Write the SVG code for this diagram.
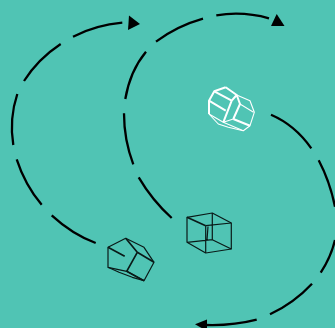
<svg xmlns="http://www.w3.org/2000/svg" width="335" height="328" viewBox="0 0 335 328">
<style>
.a{fill:none;stroke:#000;stroke-width:2.3;stroke-linecap:butt}
.k{fill:none;stroke:#0a1a18;stroke-width:1.2;stroke-linejoin:round}
.K{fill:none;stroke:#0a1a18;stroke-width:1.7;stroke-linejoin:round}
.w{fill:none;stroke:#fff;stroke-width:1.1;stroke-linejoin:round}
.W{fill:none;stroke:#fff;stroke-width:2;stroke-linejoin:round}
.h{fill:#000;stroke:none}
</style>
<rect width="335" height="328" fill="#50c4b4"/>
<g id="connectors">
<path class="a" d="M122.3 22.7Q96 25 73 36.7"/>
<path class="a" d="M60.7 44Q38 59 24 81"/>
<path class="a" d="M17.3 94Q9 119 13.3 145"/>
<path class="a" d="M16.7 159.3Q25 185 41.7 204.7"/>
<path class="a" d="M51.7 215.3Q72 234 95.7 243"/>
<polygon class="h" points="129,15.5 140,24 128,30"/>
<path class="a" d="M146 51.7Q130 71 125.3 99"/>
<path class="a" d="M156 41.7Q177 26 203 18.7"/>
<path class="a" d="M216.3 15.3Q243 11 269 18.3"/>
<polygon class="h" points="276.7,14 284.5,26 271,26"/>
<path class="a" d="M124 113.3Q124 140 133.3 164.3"/>
<path class="a" d="M138.7 177.3Q152 200 171.7 218"/>
<path class="a" d="M271 114.7Q295 125 311.3 148.3"/>
<path class="a" d="M318.7 160.3Q330 182 335 206.7"/>
<path class="a" d="M335 240Q331 257 320.7 272.7"/>
<path class="a" d="M312 283.7Q294 303 270 314.3"/>
<path class="a" d="M256.7 319.7Q232 326 205 325"/>
<polygon class="h" points="195,324.3 207,319.5 207,331"/>
</g>
<g id="node-white">
<path class="w" d="M236.7 95L250 100.7L254.3 112.3L250 125.7L243.3 130.7L228.3 127.3L218.3 124L209 114"/>
<path class="W" d="M225.7 87.3L214.3 91.3L209 100.7L209 114M225.7 87.3L236.7 95M214.3 91.3L231.7 100.7L223.3 122.3M209 100.7L225.7 110.7M233.3 119L250 125.7M231.7 100.7L236.7 95L240 104L233.3 119"/>
<path class="w" d="M240 104L253.5 112.3M209 114L223.3 122.3L233.3 119M223.3 122.3L243.3 130.7"/>
</g>
<g id="node-cube">
<path class="k" d="M187 217.3L212.3 213L231.3 223L231.3 249L205.7 253L187 242.3Z"/>
<path class="k" d="M205.7 225.7L231.3 223M205.7 225.7L205.7 253M212.3 213L212.3 239.7M187 242.3L212.3 239.7L231.3 249M208 226.5L207 240"/>
<path class="K" d="M187 217.3L205.7 225.7"/>
</g>
<g id="node-pentagon">
<path class="k" d="M108 247.3L125.7 238.3L144 247.3L154 262.3L144 280.7L126.7 271.3L108 267.3Z"/>
<path class="K" d="M125.7 238.3L137.3 252.3L154 262.3M137.3 252.3L126.7 271.3L144 280.7M108 247.3L124.7 256.3"/>
<path class="k" d="M108 267.3L119 272.3L132.3 277.3L144 280.7"/>
</g>
</svg>
